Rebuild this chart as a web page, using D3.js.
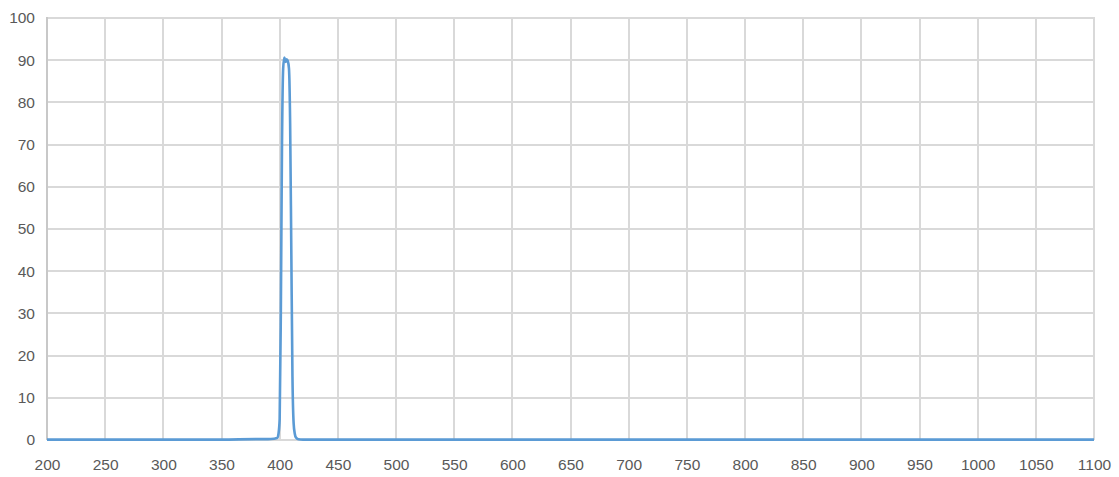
<!DOCTYPE html>
<html><head><meta charset="utf-8">
<script src="https://cdn.jsdelivr.net/npm/d3@7/dist/d3.min.js"></script>
<style>body{margin:0;background:#fff}svg{display:block}</style>
</head><body><svg id="c" width="1119" height="477"></svg>
<script>
const wavelengths = [200,250,300,350,380,390,395,398,399,400,401,402,403,404,405,406,407,408,409,410,411,412,413,414,416,420,450,500,600,700,800,900,1000,1100];
const transmission = [0.1,0.1,0.1,0.1,0.2,0.2,0.3,0.5,1.5,5,30,70,88,90.6,89.6,90.2,89.8,88,75,45,15,4,1.5,0.6,0.2,0.1,0.1,0.1,0.1,0.1,0.1,0.1,0.1,0.1];
const xTicks = d3.range(200,1101,50);
const yTicks = d3.range(0,101,10);

const svg = d3.select("#c");
const m = {l:47, r:1094, t:18, b:440};
const x = d3.scaleLinear().domain([200,1100]).range([m.l,m.r]);
const y = d3.scaleLinear().domain([0,100]).range([m.b,m.t]);

const g = svg.append("g");
g.selectAll(".hg").data(yTicks).join("line")
  .attr("x1",m.l).attr("x2",m.r).attr("y1",d=>Math.round(y(d))).attr("y2",d=>Math.round(y(d)))
  .attr("stroke","#d9d9d9").attr("stroke-width",2);
g.selectAll(".vg").data(xTicks).join("line")
  .attr("x1",d=>Math.round(x(d))).attr("x2",d=>Math.round(x(d))).attr("y1",m.t-1).attr("y2",m.b)
  .attr("stroke",d=>d===200?"#c8c8c8":"#d9d9d9").attr("stroke-width",2);

const xAxis = d3.axisBottom(x).tickValues(xTicks).tickSize(0).tickPadding(0).tickFormat(d3.format("d"));
const ax = svg.append("g").attr("transform",`translate(0,${m.b})`).call(xAxis);
ax.select(".domain").remove();
ax.selectAll("text").attr("dy",0).attr("y",30).attr("fill","#595959")
  .style("font-family","'Liberation Sans', Arial, sans-serif").style("font-size","15.5px");

const yAxis = d3.axisLeft(y).tickValues(yTicks).tickSize(0).tickPadding(12);
const ay = svg.append("g").attr("transform",`translate(${m.l},0)`).call(yAxis);
ay.select(".domain").remove();
ay.selectAll("text").attr("fill","#595959")
  .style("font-family","'Liberation Sans', Arial, sans-serif").style("font-size","15.5px");

const line = d3.line().x((d,i)=>x(wavelengths[i])).y(d=>y(d)).curve(d3.curveMonotoneX);
svg.append("path").datum(transmission).attr("d",line)
  .attr("fill","none").attr("stroke","#5b9bd5").attr("stroke-width",2.6).attr("stroke-linejoin","round");
</script></body></html>
